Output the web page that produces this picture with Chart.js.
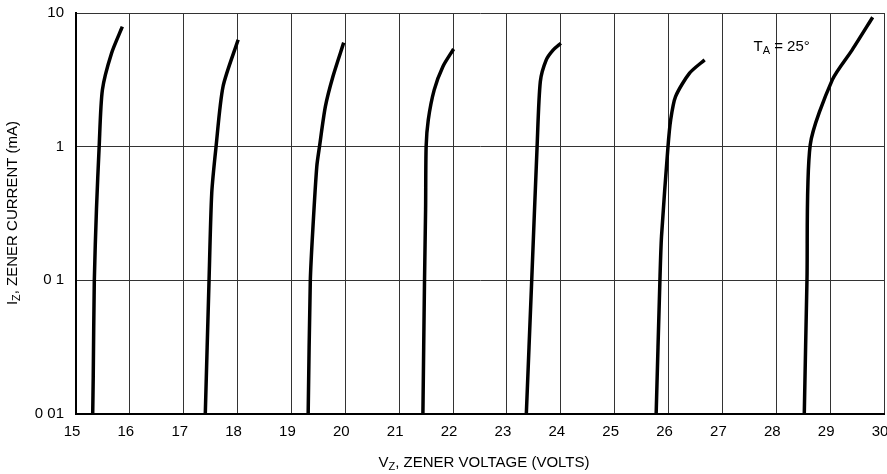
<!DOCTYPE html>
<html>
<head>
<meta charset="utf-8">
<script src="https://cdn.jsdelivr.net/npm/chart.js@4.4.0/dist/chart.umd.min.js"></script>
<style>
html, body { margin: 0; padding: 0; background: #fff; }
</style>
</head>
<body>
<canvas id="graficoZener" width="887" height="474"></canvas>
<script>
// Vz (volts) / Iz (mA), una curva por diodo
const vz1 = [15.31, 15.32, 15.34, 15.38, 15.43, 15.49, 15.66, 15.86];
const iz1 = [0.01, 0.019, 0.1, 0.34, 1, 2.66, 5.0, 7.9];
const vz2 = [17.40, 17.47, 17.52, 17.60, 17.73, 18.01];
const iz2 = [0.01, 0.1, 0.45, 1, 2.82, 6.3];
const vz3 = [19.31, 19.35, 19.40, 19.47, 19.52, 19.63, 19.77, 19.97];
const iz3 = [0.01, 0.1, 0.254, 0.71, 1, 2.0, 3.35, 6.0];
const vz4 = [21.44, 21.47, 21.49, 21.50, 21.54, 21.65, 21.81, 22.01];
const iz4 = [0.01, 0.1, 0.34, 1, 1.59, 2.66, 3.97, 5.38];
const vz5 = [23.36, 23.46, 23.56, 23.62, 23.73, 23.86, 24.0];
const iz5 = [0.01, 0.1, 1, 3.07, 4.46, 5.3, 5.94];
const vz6 = [25.77, 25.84, 25.87, 25.99, 26.04, 26.13, 26.39, 26.67];
const iz6 = [0.01, 0.1, 0.214, 1, 1.59, 2.37, 3.55, 4.46];
const vz7 = [28.52, 28.57, 28.63, 29.04, 29.41, 29.79];
const iz7 = [0.01, 0.1, 1.03, 3.16, 5.3, 9.3];

const yTickValues = [0.01, 0.1, 1, 10];
const yTickLabels = ['0 01', '0 1', '1', '10'];
const xMin = 15, xMax = 30;

const fuente = '"Liberation Sans", Arial, sans-serif';

const curvas = [[vz1, iz1], [vz2, iz2], [vz3, iz3], [vz4, iz4], [vz5, iz5], [vz6, iz6], [vz7, iz7]];

// titulos con subindice y la nota de temperatura
const textos = {
    id: 'textos',
    afterDraw(chart) {
        const ctx = chart.ctx;
        const grande = '15px ' + fuente;
        const chico = '11px ' + fuente;

        function conSub(partes, x, y) {
            let ancho = 0;
            partes.forEach(p => { ctx.font = p[1] ? chico : grande; ancho += ctx.measureText(p[0]).width; });
            let cx = x - ancho / 2;
            partes.forEach(p => {
                ctx.font = p[1] ? chico : grande;
                ctx.fillText(p[0], cx, p[1] ? y + 4 : y);
                cx += ctx.measureText(p[0]).width;
            });
        }

        ctx.save();
        ctx.fillStyle = '#000';
        ctx.textBaseline = 'middle';
        ctx.textAlign = 'left';
        conSub([['V', false], ['Z', true], [', ZENER VOLTAGE (VOLTS)', false]], 484, 463);

        ctx.save();
        ctx.translate(13, 213);
        ctx.rotate(-Math.PI / 2);
        conSub([['I', false], ['Z', true], [', ZENER CURRENT (mA)', false]], 0, 0);
        ctx.restore();

        const px = chart.scales.x.getPixelForValue(28.1);
        const py = chart.scales.y.getPixelForValue(5.6);
        conSub([['T', false], ['A', true], [' = 25°', false]], px, py);
        ctx.restore();
    }
};

const ctx = document.getElementById('graficoZener').getContext('2d');
const config = {
    type: 'line',
    data: {
        datasets: curvas.map(c => ({
            data: c[0].map((v, i) => ({ x: v, y: c[1][i] })),
            borderColor: '#000',
            borderWidth: 3.5,
            pointRadius: 0,
            fill: false,
            tension: 0.25
        }))
    },
    options: {
        responsive: false,
        animation: false,
        layout: { padding: { top: 13, right: 3, left: 0, bottom: 0 } },
        plugins: { legend: { display: false }, tooltip: { enabled: false } },
        scales: {
            x: {
                type: 'linear',
                min: xMin,
                max: xMax,
                ticks: { stepSize: 1, color: '#000', font: { size: 15, family: fuente }, padding: 9, labelOffset: -4 },
                grid: { color: '#333', lineWidth: 1, drawTicks: false },
                border: { color: '#000', width: 2 },
                afterFit(scale) {
                    scale.height = 60;
                    scale.paddingLeft = 0;
                    scale.paddingRight = 0;
                }
            },
            y: {
                type: 'logarithmic',
                min: 0.01,
                max: 10,
                afterBuildTicks(axis) { axis.ticks = yTickValues.map(v => ({ value: v })); },
                ticks: {
                    color: '#000',
                    font: { size: 15, family: fuente },
                    padding: 12,
                    callback: (v) => yTickLabels[yTickValues.indexOf(v)]
                },
                grid: { color: '#333', lineWidth: 1, drawTicks: false },
                border: { color: '#000', width: 2 },
                afterFit(scale) {
                    scale.width = 76;
                    scale.paddingTop = 0;
                    scale.paddingBottom = 0;
                }
            }
        }
    },
    plugins: [textos]
};
new Chart(ctx, config);
</script>
</body>
</html>
